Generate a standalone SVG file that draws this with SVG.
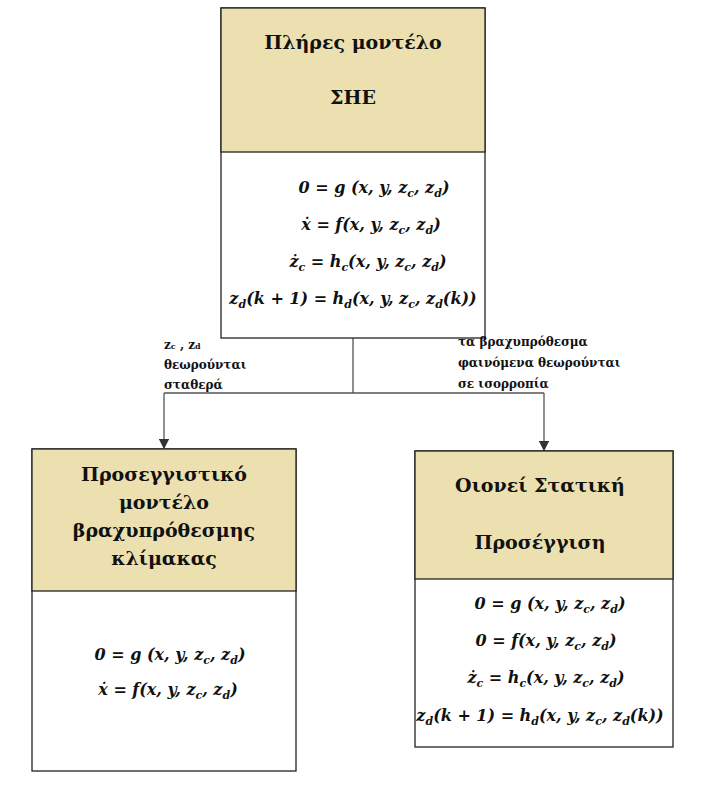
<svg xmlns="http://www.w3.org/2000/svg" width="710" height="786" viewBox="0 0 710 786">
<style>
.box{fill:#fff;stroke:#222;stroke-width:1.3}
.hdr{fill:#ece0b0;stroke:#222;stroke-width:1.3}
.t{font-family:"DejaVu Serif",serif;font-weight:bold;font-size:19px;fill:#111;text-anchor:middle}
.eq{font-family:"DejaVu Serif",serif;font-weight:bold;font-style:italic;font-size:16px;fill:#111;text-anchor:middle}
.lb{font-family:"DejaVu Serif",serif;font-weight:bold;font-size:12px;fill:#111}
.s{font-size:11px}
.c{stroke:#555;stroke-width:1.3;fill:none}
</style>
<defs><marker id="a" markerWidth="8" markerHeight="8" refX="7" refY="4" orient="auto"><path d="M0,0 L8,4 L0,8 z" fill="#333"/></marker></defs>
<g id="connectors">
<path class="c" d="M353,338 V393 M164,393 H544"/>
<path class="c" d="M164,393 V448" marker-end="url(#a)"/>
<path class="c" d="M544,393 V450" marker-end="url(#a)"/>
</g>
<g id="top">
<rect class="box" x="221" y="8" width="264" height="330"/>
<rect class="hdr" x="221" y="8" width="264" height="144"/>
<text class="t" x="353" y="49">Πλήρες μοντέλο</text>
<text class="t" x="353" y="104">ΣΗΕ</text>
<text class="eq" x="374" y="193">0 = g (x, y, z<tspan class="s" dy="4">c</tspan><tspan dy="-4">, z</tspan><tspan class="s" dy="4">d</tspan><tspan dy="-4">)</tspan></text>
<text class="eq" x="371" y="230">ẋ = f(x, y, z<tspan class="s" dy="4">c</tspan><tspan dy="-4">, z</tspan><tspan class="s" dy="4">d</tspan><tspan dy="-4">)</tspan></text>
<text class="eq" x="368" y="267">ż<tspan class="s" dy="4">c</tspan><tspan dy="-4"> =  h</tspan><tspan class="s" dy="4">c</tspan><tspan dy="-4">(x, y, z</tspan><tspan class="s" dy="4">c</tspan><tspan dy="-4">, z</tspan><tspan class="s" dy="4">d</tspan><tspan dy="-4">)</tspan></text>
<text class="eq" x="353" y="304">z<tspan class="s" dy="4">d</tspan><tspan dy="-4">(k + 1) = h</tspan><tspan class="s" dy="4">d</tspan><tspan dy="-4">(x, y, z</tspan><tspan class="s" dy="4">c</tspan><tspan dy="-4">, z</tspan><tspan class="s" dy="4">d</tspan><tspan dy="-4">(k))</tspan></text>
</g>
<g id="left">
<rect class="box" x="32" y="449" width="264" height="322"/>
<rect class="hdr" x="32" y="449" width="264" height="142"/>
<text class="t" x="164" y="481">Προσεγγιστικό</text>
<text class="t" x="164" y="509">μοντέλο</text>
<text class="t" x="164" y="537">βραχυπρόθεσμης</text>
<text class="t" x="164" y="565">κλίμακας</text>
<text class="eq" x="170" y="660">0 = g (x, y, z<tspan class="s" dy="4">c</tspan><tspan dy="-4">, z</tspan><tspan class="s" dy="4">d</tspan><tspan dy="-4">)</tspan></text>
<text class="eq" x="168" y="695">ẋ = f(x, y, z<tspan class="s" dy="4">c</tspan><tspan dy="-4">, z</tspan><tspan class="s" dy="4">d</tspan><tspan dy="-4">)</tspan></text>
</g>
<g id="right">
<rect class="box" x="415" y="451" width="258" height="296"/>
<rect class="hdr" x="415" y="451" width="258" height="128"/>
<text class="t" x="540" y="492">Οιονεί  Στατική</text>
<text class="t" x="540" y="549">Προσέγγιση</text>
<text class="eq" x="550" y="609">0 = g (x, y, z<tspan class="s" dy="4">c</tspan><tspan dy="-4">, z</tspan><tspan class="s" dy="4">d</tspan><tspan dy="-4">)</tspan></text>
<text class="eq" x="546" y="646">0 = f(x, y, z<tspan class="s" dy="4">c</tspan><tspan dy="-4">, z</tspan><tspan class="s" dy="4">d</tspan><tspan dy="-4">)</tspan></text>
<text class="eq" x="546" y="683">ż<tspan class="s" dy="4">c</tspan><tspan dy="-4"> = h</tspan><tspan class="s" dy="4">c</tspan><tspan dy="-4">(x, y, z</tspan><tspan class="s" dy="4">c</tspan><tspan dy="-4">, z</tspan><tspan class="s" dy="4">d</tspan><tspan dy="-4">)</tspan></text>
<text class="eq" x="540" y="721">z<tspan class="s" dy="4">d</tspan><tspan dy="-4">(k + 1) = h</tspan><tspan class="s" dy="4">d</tspan><tspan dy="-4">(x, y, z</tspan><tspan class="s" dy="4">c</tspan><tspan dy="-4">, z</tspan><tspan class="s" dy="4">d</tspan><tspan dy="-4">(k))</tspan></text>
</g>
<g id="labels">
<text class="lb" x="164" y="349">z<tspan font-size="8">c</tspan> , z<tspan font-size="8">d</tspan></text>
<text class="lb" x="164" y="369">θεωρούνται</text>
<text class="lb" x="164" y="389">σταθερά</text>
<text class="lb" x="458" y="346">τα βραχυπρόθεσμα</text>
<text class="lb" x="458" y="367">φαινόμενα θεωρούνται</text>
<text class="lb" x="458" y="388">σε ισορροπία</text>
</g>
</svg>
